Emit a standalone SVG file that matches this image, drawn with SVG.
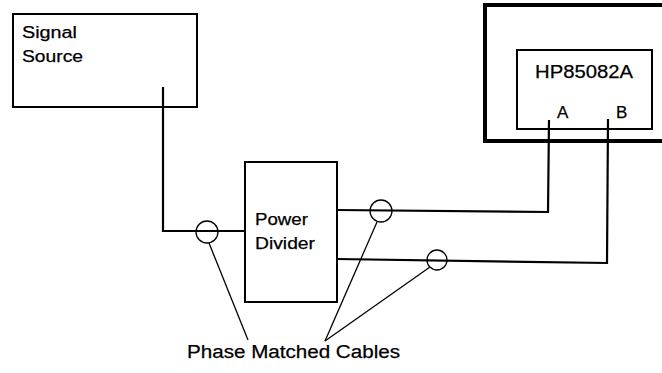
<svg xmlns="http://www.w3.org/2000/svg" width="662" height="373" viewBox="0 0 662 373">
<style>
.box{fill:none;stroke:#000;stroke-width:2}
.thick{fill:none;stroke:#000;stroke-width:4}
.wire{fill:none;stroke:#000;stroke-width:2.2;stroke-linejoin:miter}
.ring{fill:none;stroke:#000;stroke-width:1.3}
.lead{fill:none;stroke:#000;stroke-width:1.3}
text{font-family:"Liberation Sans",Arial,sans-serif;fill:#000;stroke:#000;stroke-width:0.25}
</style>
<rect width="662" height="373" fill="#fff"/>
<g id="signal-source">
<rect class="box" x="13" y="14" width="184" height="93"/>
<text x="22" y="38" font-size="16" textLength="55" lengthAdjust="spacingAndGlyphs">Signal</text>
<text x="22" y="62" font-size="16" textLength="61" lengthAdjust="spacingAndGlyphs">Source</text>
</g>
<g id="power-divider">
<rect class="box" x="245" y="162" width="92" height="140"/>
<text x="255" y="225" font-size="17" textLength="53" lengthAdjust="spacingAndGlyphs">Power</text>
<text x="255" y="249" font-size="17" textLength="60" lengthAdjust="spacingAndGlyphs">Divider</text>
</g>
<g id="hp85082a">
<rect class="thick" x="485" y="5" width="190" height="136"/>
<rect class="box" x="517" y="50" width="135" height="79"/>
<text x="535" y="78" font-size="18" textLength="98" lengthAdjust="spacingAndGlyphs">HP85082A</text>
<text x="557" y="118" font-size="17">A</text>
<text x="616" y="118" font-size="17">B</text>
</g>
<g id="connectors">
<polyline class="wire" points="163,87 163,231 245,231"/>
<polyline class="wire" points="337,210 548,212 549,120"/>
<polyline class="wire" points="337,259 607,263 608,119"/>
</g>
<g id="phase-matched-cables">
<circle class="ring" cx="207" cy="232" r="11"/>
<circle class="ring" cx="381" cy="211" r="11"/>
<circle class="ring" cx="437" cy="260" r="10"/>
<line class="lead" x1="209" y1="243" x2="248" y2="340"/>
<line class="lead" x1="377" y1="222" x2="325" y2="341"/>
<line class="lead" x1="430" y1="267" x2="325" y2="341"/>
<text x="187" y="358" font-size="18" textLength="213" lengthAdjust="spacingAndGlyphs">Phase Matched Cables</text>
</g>
</svg>
